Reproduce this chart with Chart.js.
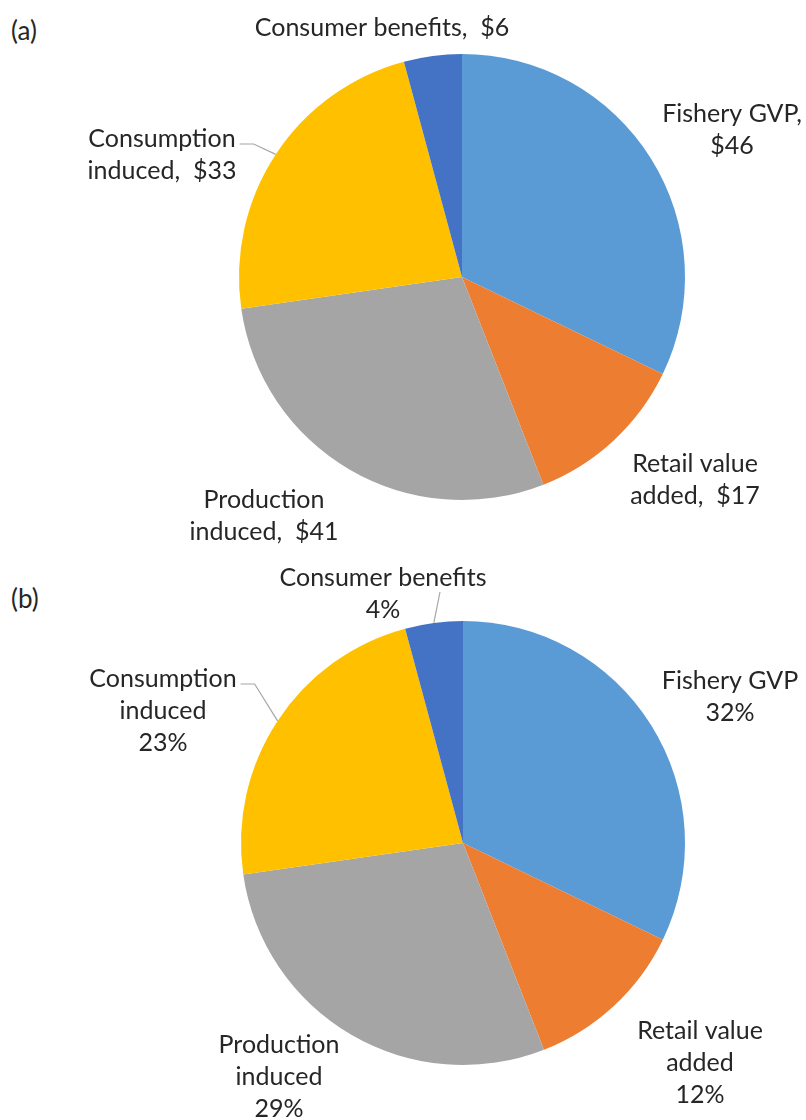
<!DOCTYPE html>
<html>
<head>
<meta charset="utf-8">
<script src="https://cdn.jsdelivr.net/npm/chart.js@4.4.1/dist/chart.umd.min.js"></script>
<style>
  body { margin: 0; background: #fff; width: 806px; height: 1120px; overflow: hidden; position: relative; }
  canvas { position: absolute; left: 0; }
  .painel { position: absolute; left: 11px; font: 26px Lato, sans-serif; color: #262626; }
</style>
</head>
<body>
<div class="painel" style="top:14px">(a)</div>
<div class="painel" style="top:582px">(b)</div>
<canvas id="pizzaA" width="806" height="560" style="top:0"></canvas>
<canvas id="pizzaB" width="806" height="560" style="top:560px"></canvas>
<script>
// categorias e valores (US$)
const categorias = ['Fishery GVP', 'Retail value added', 'Production induced', 'Consumption induced', 'Consumer benefits'];
const valores = [46, 17, 41, 33, 6];
const cores = ['#5B9BD5', '#ED7D31', '#A5A5A5', '#FFC000', '#4472C4'];

// quebras de linha dos rótulos ('\n'); o valor entra no fim
const nomesA = ['Fishery GVP,\n', 'Retail value\nadded,  ', 'Production\ninduced,  ', 'Consumption\ninduced,  ', 'Consumer benefits,  '];
const nomesB = ['Fishery GVP\n', 'Retail value\nadded\n', 'Production\ninduced\n', 'Consumption\ninduced\n', 'Consumer benefits\n'];

const total = valores.reduce((a, b) => a + b, 0);
const rotulosA = valores.map((v, i) => (nomesA[i] + '$' + v).split('\n'));
const rotulosB = valores.map((v, i) => (nomesB[i] + Math.round(v / total * 100) + '%').split('\n'));

const FONTE = '25px Lato, sans-serif';
const ALTURA_LINHA = 32;

// posição de cada rótulo (centro do bloco, relativo ao centro da pizza)
// guia: null ou 'lado' (linha saindo à direita da 1a linha) ou [dx, dy] de onde parte a linha
const layoutA = {
  padding: { left: 239, right: 121, top: 54, bottom: 60 },
  rotulos: [
    { dx: 270, dy: -147 },
    { dx: 233, dy: 203 },
    { dx: -198, dy: 239 },
    { dx: -300, dy: -122, guia: 'lado' },
    { dx: -80, dy: -249 }
  ]
};
const layoutB = {
  padding: { left: 241, right: 121, top: 61, bottom: 55 },
  rotulos: [
    { dx: 267, dy: -146 },
    { dx: 237, dy: 220 },
    { dx: -184, dy: 234 },
    { dx: -300, dy: -132, guia: 'lado' },
    { dx: -80, dy: -249, guia: [57, -2] }
  ]
};

function pluginRotulos(rotulos, layout) {
  return {
    id: 'rotulos',
    afterDraw(chart) {
      const ctx = chart.ctx;
      const arcos = chart.getDatasetMeta(0).data;
      ctx.save();
      ctx.font = FONTE;
      ctx.fillStyle = '#262626';
      ctx.textAlign = 'center';
      ctx.textBaseline = 'middle';
      arcos.forEach((arco, i) => {
        const p = arco.getProps(['x', 'y', 'startAngle', 'endAngle', 'outerRadius'], true);
        const cfg = layout.rotulos[i];
        const linhas = rotulos[i];
        const cx = p.x + cfg.dx;
        const cy = p.y + cfg.dy;
        const y0 = cy - (linhas.length - 1) * ALTURA_LINHA / 2;
        linhas.forEach((t, k) => ctx.fillText(t, cx, y0 + k * ALTURA_LINHA));

        if (cfg.guia) {
          const meio = (p.startAngle + p.endAngle) / 2;
          const fx = p.x + Math.cos(meio) * p.outerRadius;
          const fy = p.y + Math.sin(meio) * p.outerRadius;
          ctx.beginPath();
          ctx.strokeStyle = '#A6A6A6';
          ctx.lineWidth = 1.2;
          if (cfg.guia === 'lado') {
            const sx = cx + ctx.measureText(linhas[0]).width / 2 + 4;
            const sy = y0 + 5;
            ctx.moveTo(sx, sy);
            ctx.lineTo(sx + 14, sy);
          } else {
            ctx.moveTo(cx + cfg.guia[0], cy + cfg.guia[1]);
          }
          ctx.lineTo(fx, fy);
          ctx.stroke();
        }
      });
      ctx.restore();
    }
  };
}

function montarPizza(id, rotulos, layout) {
  return new Chart(document.getElementById(id), {
    type: 'pie',
    data: {
      labels: categorias,
      datasets: [{
        data: valores,
        backgroundColor: cores,
        borderWidth: 0,
        hoverOffset: 0
      }]
    },
    options: {
      responsive: false,
      animation: false,
      events: [],
      layout: { padding: layout.padding },
      plugins: {
        legend: { display: false },
        tooltip: { enabled: false }
      }
    },
    plugins: [pluginRotulos(rotulos, layout)]
  });
}

montarPizza('pizzaA', rotulosA, layoutA);
montarPizza('pizzaB', rotulosB, layoutB);
</script>
</body>
</html>
